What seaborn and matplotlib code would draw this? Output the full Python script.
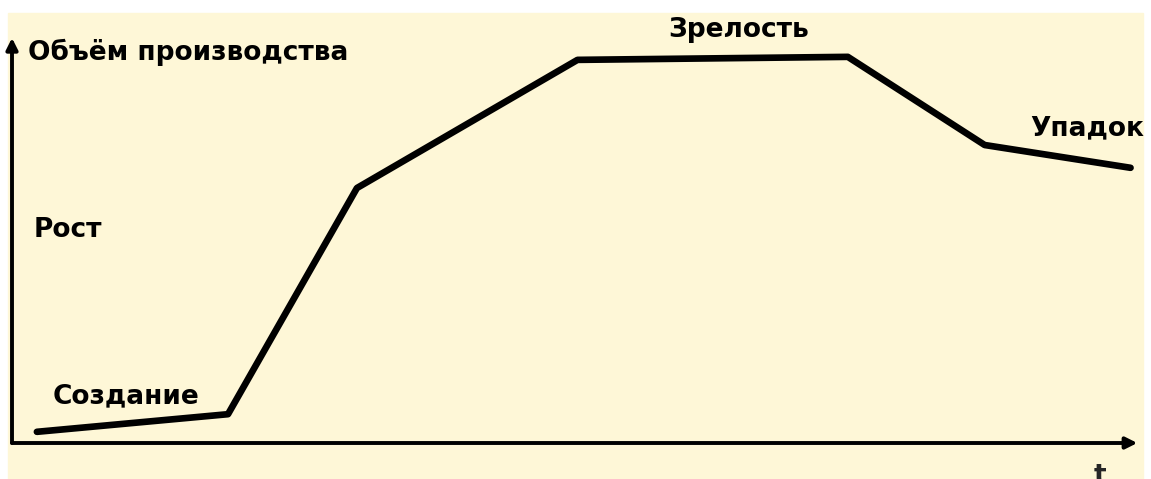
# Product life cycle chart (Объём производства vs t)

import numpy as np
import pandas as pd
import matplotlib.pyplot as plt
import seaborn as sns
from matplotlib.patches import Rectangle

# ================= DATA =================

time_points = [0.22, 1.91, 3.05, 5.00, 7.39, 8.60, 9.89]
volume = [2.6, 6.7, 59.3, 89.1, 89.8, 69.3, 64.0]

stage_labels = ["Создание", "Рост", "Зрелость", "Упадок"]
stage_x = [0.36, 0.19, 5.80, 9.00]
stage_y = [9.3, 47.9, 94.4, 71.6]

y_title = "Объём производства"
x_title = "t"

# ================= STYLE =================

sns.set_style("white")
plt.rcParams['font.family'] = ['DejaVu Sans']

cream = "#fef7d7"

fig = plt.figure(figsize=(11.51, 4.79), dpi=100)
fig.patch.set_facecolor("white")
# cream paper background, behind the axes
fig.patches.append(Rectangle((8 / 1151, 0), (1143 - 8) / 1151, (479 - 13) / 479,
                             transform=fig.transFigure, color=cream, zorder=-10))

ax = fig.add_axes([12 / 1151, 36 / 479, (1143 - 12) / 1151, (443 - 13) / 479])
ax.set_facecolor("none")

# ================= CURVE =================

df = pd.DataFrame({"t": time_points, "v": volume})
sns.lineplot(data=df, x="t", y="v", ax=ax, color="black", linewidth=4.8,
             solid_capstyle="round", solid_joinstyle="round", sort=False)

ax.set_xlim(0, 10)
ax.set_ylim(0, 100)
ax.axis("off")

# ================= AXES WITH ARROWS =================

arrow = dict(arrowstyle="-|>", lw=2.8, color="black", mutation_scale=17,
             shrinkA=0, shrinkB=0)
ax.annotate("", xy=(9.95, 0), xytext=(0, 0), arrowprops=arrow, annotation_clip=False)
ax.annotate("", xy=(0, 94.2), xytext=(0, 0), arrowprops=arrow, annotation_clip=False)

# ================= TEXT =================

font = dict(fontsize=19, fontweight="bold", color="black", va="baseline", ha="left")
ax.text(0.14, 89.1, y_title, **font)
for lab, x, y in zip(stage_labels, stage_x, stage_y):
    ax.text(x, y, lab, **font)
ax.text(9.62, -4.6, x_title, fontsize=19, fontweight="bold", va="top", ha="center",
        clip_on=False)

fig.savefig("out.png", dpi=100)
